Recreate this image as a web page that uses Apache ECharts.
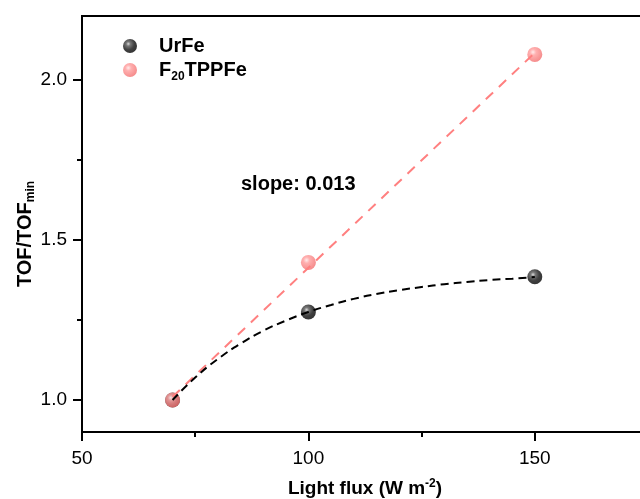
<!DOCTYPE html>
<html>
<head>
<meta charset="utf-8">
<script src="https://cdn.jsdelivr.net/npm/echarts@6/dist/echarts.min.js"></script>
<style>
  html, body { margin: 0; padding: 0; background: #fff; }
  #chart { width: 640px; height: 499px; }
</style>
</head>
<body>
<div id="chart"></div>
<script>
// Measured turnover frequency (normalised) versus light flux
const fluxUrFe = [70, 100, 150];
const tofUrFe = [1.0, 1.275, 1.385];
const fluxF20 = [70, 100, 150];
const tofF20 = [1.0, 1.43, 2.08];

// Fitted trend curves
const urFeFitX = [70, 75, 80, 85, 90, 95, 100, 105, 110, 115, 120, 125, 130, 135, 140, 145, 150];
const urFeFitY = [1.0, 1.07, 1.128, 1.176, 1.216, 1.248, 1.275, 1.297, 1.316, 1.331, 1.343, 1.353, 1.362, 1.369, 1.375, 1.379, 1.384];
const f20FitX = [70, 150];
const f20FitY = [1.01, 2.085];

// Axis ticks and labels
const xMajorTicks = [50, 100, 150];
const xMinorTicks = [75, 125];
const yMajorTicks = [1.0, 1.5, 2.0];
const yMinorTicks = [1.25, 1.75];

const seriesNames = ['UrFe', 'F20TPPFe'];
const slopeText = 'slope: 0.013';

const pairs = (xs, ys) => xs.map((x, i) => [x, ys[i]]);

const blackBall = {
  type: 'radial', x: 0.38, y: 0.35, r: 0.7,
  colorStops: [
    { offset: 0, color: '#d0d0d0' },
    { offset: 0.22, color: '#555' },
    { offset: 0.6, color: '#111' },
    { offset: 1, color: '#000' }
  ]
};
const pinkBall = {
  type: 'radial', x: 0.38, y: 0.35, r: 0.7,
  colorStops: [
    { offset: 0, color: '#ffe6e6' },
    { offset: 0.3, color: '#ff9c9c' },
    { offset: 1, color: '#f26c6c' }
  ]
};

const chart = echarts.init(document.getElementById('chart'));
const font = 'Arial, "Liberation Sans", Helvetica, sans-serif';

chart.setOption({
  animation: false,
  backgroundColor: '#fff',
  textStyle: { fontFamily: font },
  grid: {
    left: 82, top: 16, right: -8, bottom: 67,
    show: true, borderColor: '#000', borderWidth: 2,
    outerBoundsMode: 'none'
  },
  legend: {
    data: seriesNames,
    orient: 'vertical',
    left: 123, top: 36,
    itemWidth: 14, itemHeight: 14, itemGap: 4,
    textStyle: {
      fontFamily: font, fontSize: 20, fontWeight: 'bold', color: '#000',
      rich: {
        b: { fontFamily: font, fontSize: 20, fontWeight: 'bold', color: '#000' },
        g: { width: 17 },
        s: { fontFamily: font, fontSize: 12, fontWeight: 'bold', color: '#000', verticalAlign: 'bottom', padding: [14, 0, 0, 0] }
      }
    },
    formatter: name => name === 'F20TPPFe' ? '{g|}{b|F}{s|20}{b|TPPFe}' : '{g|}{b|' + name + '}',
    padding: 0
  },
  xAxis: [{
    type: 'value', min: 50, max: 175,
    name: 'Light flux (W m{sup|-2})',
    nameLocation: 'middle', nameGap: 46, nameMoveOverlap: false,
    nameTextStyle: {
      fontFamily: font, fontSize: 19, fontWeight: 'bold', color: '#000',
      rich: {
        sup: { fontFamily: font, fontSize: 12, fontWeight: 'bold', color: '#000', verticalAlign: 'top', padding: [0, 0, 9, 0] }
      }
    },
    axisLine: { lineStyle: { color: '#000', width: 2 } },
    axisTick: { inside: false, length: 9, lineStyle: { color: '#000', width: 2 }, customValues: xMajorTicks },
    axisLabel: { customValues: xMajorTicks, fontSize: 19, color: '#000', margin: 17, fontFamily: font },
    splitLine: { show: false }
  }, {
    type: 'value', min: 50, max: 175, position: 'bottom',
    axisLine: { show: false },
    axisTick: { length: 5, lineStyle: { color: '#000', width: 2 }, customValues: xMinorTicks },
    axisLabel: { show: false },
    splitLine: { show: false }
  }],
  yAxis: [{
    type: 'value', min: 0.9, max: 2.2,
    name: '{b|TOF/TOF}{s|min}',
    nameLocation: 'middle', nameGap: 45, nameRotate: 90, nameMoveOverlap: false,
    nameTextStyle: {
      padding: [0, 20, 0, 0],
      rich: {
        b: { fontFamily: font, fontSize: 20, fontWeight: 'bold', color: '#000' },
        s: { fontFamily: font, fontSize: 12, fontWeight: 'bold', color: '#000', verticalAlign: 'bottom', padding: [12, 0, 0, 0] }
      }
    },
    axisLine: { lineStyle: { color: '#000', width: 2 } },
    axisTick: { length: 9, lineStyle: { color: '#000', width: 2 }, customValues: yMajorTicks },
    axisLabel: { customValues: yMajorTicks, fontSize: 19, color: '#000', margin: 15, fontFamily: font, formatter: v => v.toFixed(1) },
    splitLine: { show: false }
  }, {
    type: 'value', min: 0.9, max: 2.2, position: 'left',
    axisLine: { show: false },
    axisTick: { length: 5, lineStyle: { color: '#000', width: 2 }, customValues: yMinorTicks },
    axisLabel: { show: false },
    splitLine: { show: false }
  }],
  graphic: [{
    type: 'text', left: 241, top: 174, z: 10,
    style: { text: slopeText, font: 'bold 20px ' + font, fill: '#000' }
  }],
  series: [
    {
      name: 'UrFe', type: 'scatter', data: pairs(fluxUrFe, tofUrFe),
      symbol: 'circle', symbolSize: 15, z: 3,
      itemStyle: { color: blackBall }
    },
    {
      name: 'F20TPPFe', type: 'scatter', data: pairs(fluxF20, tofF20),
      symbol: 'circle', symbolSize: 15, z: 4,
      itemStyle: { color: pinkBall }
    },
    {
      type: 'line', data: pairs(f20FitX, f20FitY), showSymbol: false, z: 5,
      lineStyle: { color: '#ff8080', width: 2, type: [10, 8] }, silent: true
    },
    {
      type: 'line', data: pairs(urFeFitX, urFeFitY), showSymbol: false, smooth: true, z: 6,
      lineStyle: { color: '#000', width: 2, type: [8, 5] }, silent: true
    }
  ]
});
</script>
</body>
</html>
